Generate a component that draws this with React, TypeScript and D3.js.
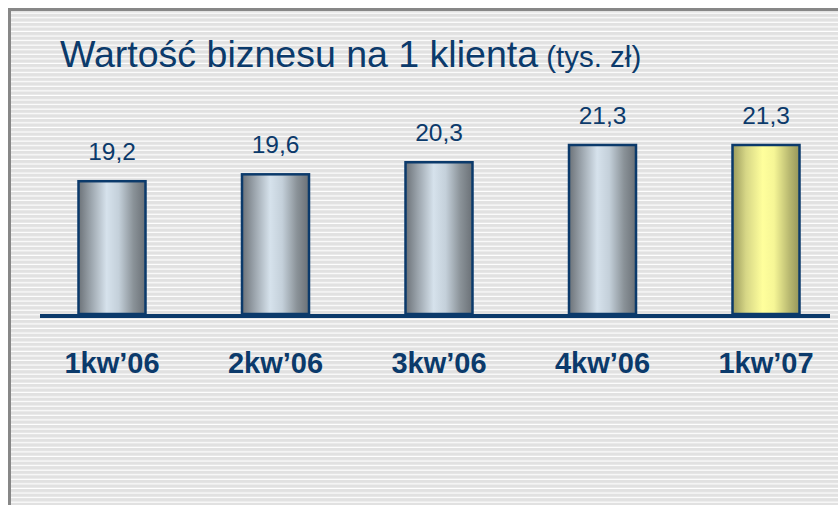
import React from "react";
import * as d3 from "d3";

const categories = ["1kw\u201906", "2kw\u201906", "3kw\u201906", "4kw\u201906", "1kw\u201907"];
const values = [19.2, 19.6, 20.3, 21.3, 21.3];
const valueLabels = ["19,2", "19,6", "20,3", "21,3", "21,3"];
const highlighted = [false, false, false, false, true];
const titleMain = "Wartość biznesu na 1 klienta";
const titleUnit = " (tys. zł)";

const W = 838;
const H = 505;
const NAVY = "#0b3a6b";

export default function App() {
  const baseY = 314;
  const x = d3.scalePoint<string>().domain(categories).range([112, 766]);
  const y = d3.scaleLinear().domain([11.5, 21.3]).range([baseY, baseY - 169]);
  const bw = 67;

  return (
    <svg width={W} height={H} style={{ position: "absolute", left: 0, top: 0 }} fontFamily="Liberation Sans, Arial, sans-serif">
      <defs>
        <pattern id="stripes" patternUnits="userSpaceOnUse" width={10} height={4.57}>
          <rect x={0} y={0} width={10} height={4.57} fill="#e1e1e1" />
          <rect x={0} y={3.4} width={10} height={1.17} fill="#ffffff" />
        </pattern>
        <linearGradient id="gGray" x1="0" x2="1" y1="0" y2="0">
          <stop offset="0" stopColor="#6c7278" />
          <stop offset="0.18" stopColor="#9aa3ab" />
          <stop offset="0.42" stopColor="#d6e2ec" />
          <stop offset="0.6" stopColor="#c4d0da" />
          <stop offset="0.82" stopColor="#8a9298" />
          <stop offset="1" stopColor="#6a7076" />
        </linearGradient>
        <linearGradient id="gYellow" x1="0" x2="1" y1="0" y2="0">
          <stop offset="0" stopColor="#9a9a5c" />
          <stop offset="0.2" stopColor="#d6d686" />
          <stop offset="0.45" stopColor="#ffff9c" />
          <stop offset="0.62" stopColor="#f6f696" />
          <stop offset="0.85" stopColor="#b8b870" />
          <stop offset="1" stopColor="#96965a" />
        </linearGradient>
      </defs>
      <rect x={0} y={0} width={W} height={H} fill="#ffffff" />
      <rect x={11} y={11} width={W - 11} height={H - 11} fill="url(#stripes)" />
      <rect x={8} y={8} width={W - 8} height={3} fill="#878787" />
      <rect x={8} y={8} width={3} height={H - 8} fill="#878787" />

      <text x={60} y={67} fill={NAVY}>
        <tspan fontSize={37.5}>{titleMain}</tspan>
        <tspan fontSize={29.5}>{titleUnit}</tspan>
      </text>

      {categories.map((c, i) => {
        const cx = x(c) as number;
        const top = y(values[i]);
        return (
          <g key={c}>
            <rect
              x={cx - bw / 2}
              y={top}
              width={bw}
              height={baseY - top}
              fill={highlighted[i] ? "url(#gYellow)" : "url(#gGray)"}
              stroke={NAVY}
              strokeWidth={2.5}
            />
            <text x={cx} y={top - 21} textAnchor="middle" fontSize={24.5} fill={NAVY}>
              {valueLabels[i]}
            </text>
            <text x={cx} y={373} textAnchor="middle" fontSize={29} fontWeight="bold" fill={NAVY}>
              {c}
            </text>
          </g>
        );
      })}
      <rect x={40} y={baseY} width={790} height={4} fill={NAVY} />
    </svg>
  );
}
